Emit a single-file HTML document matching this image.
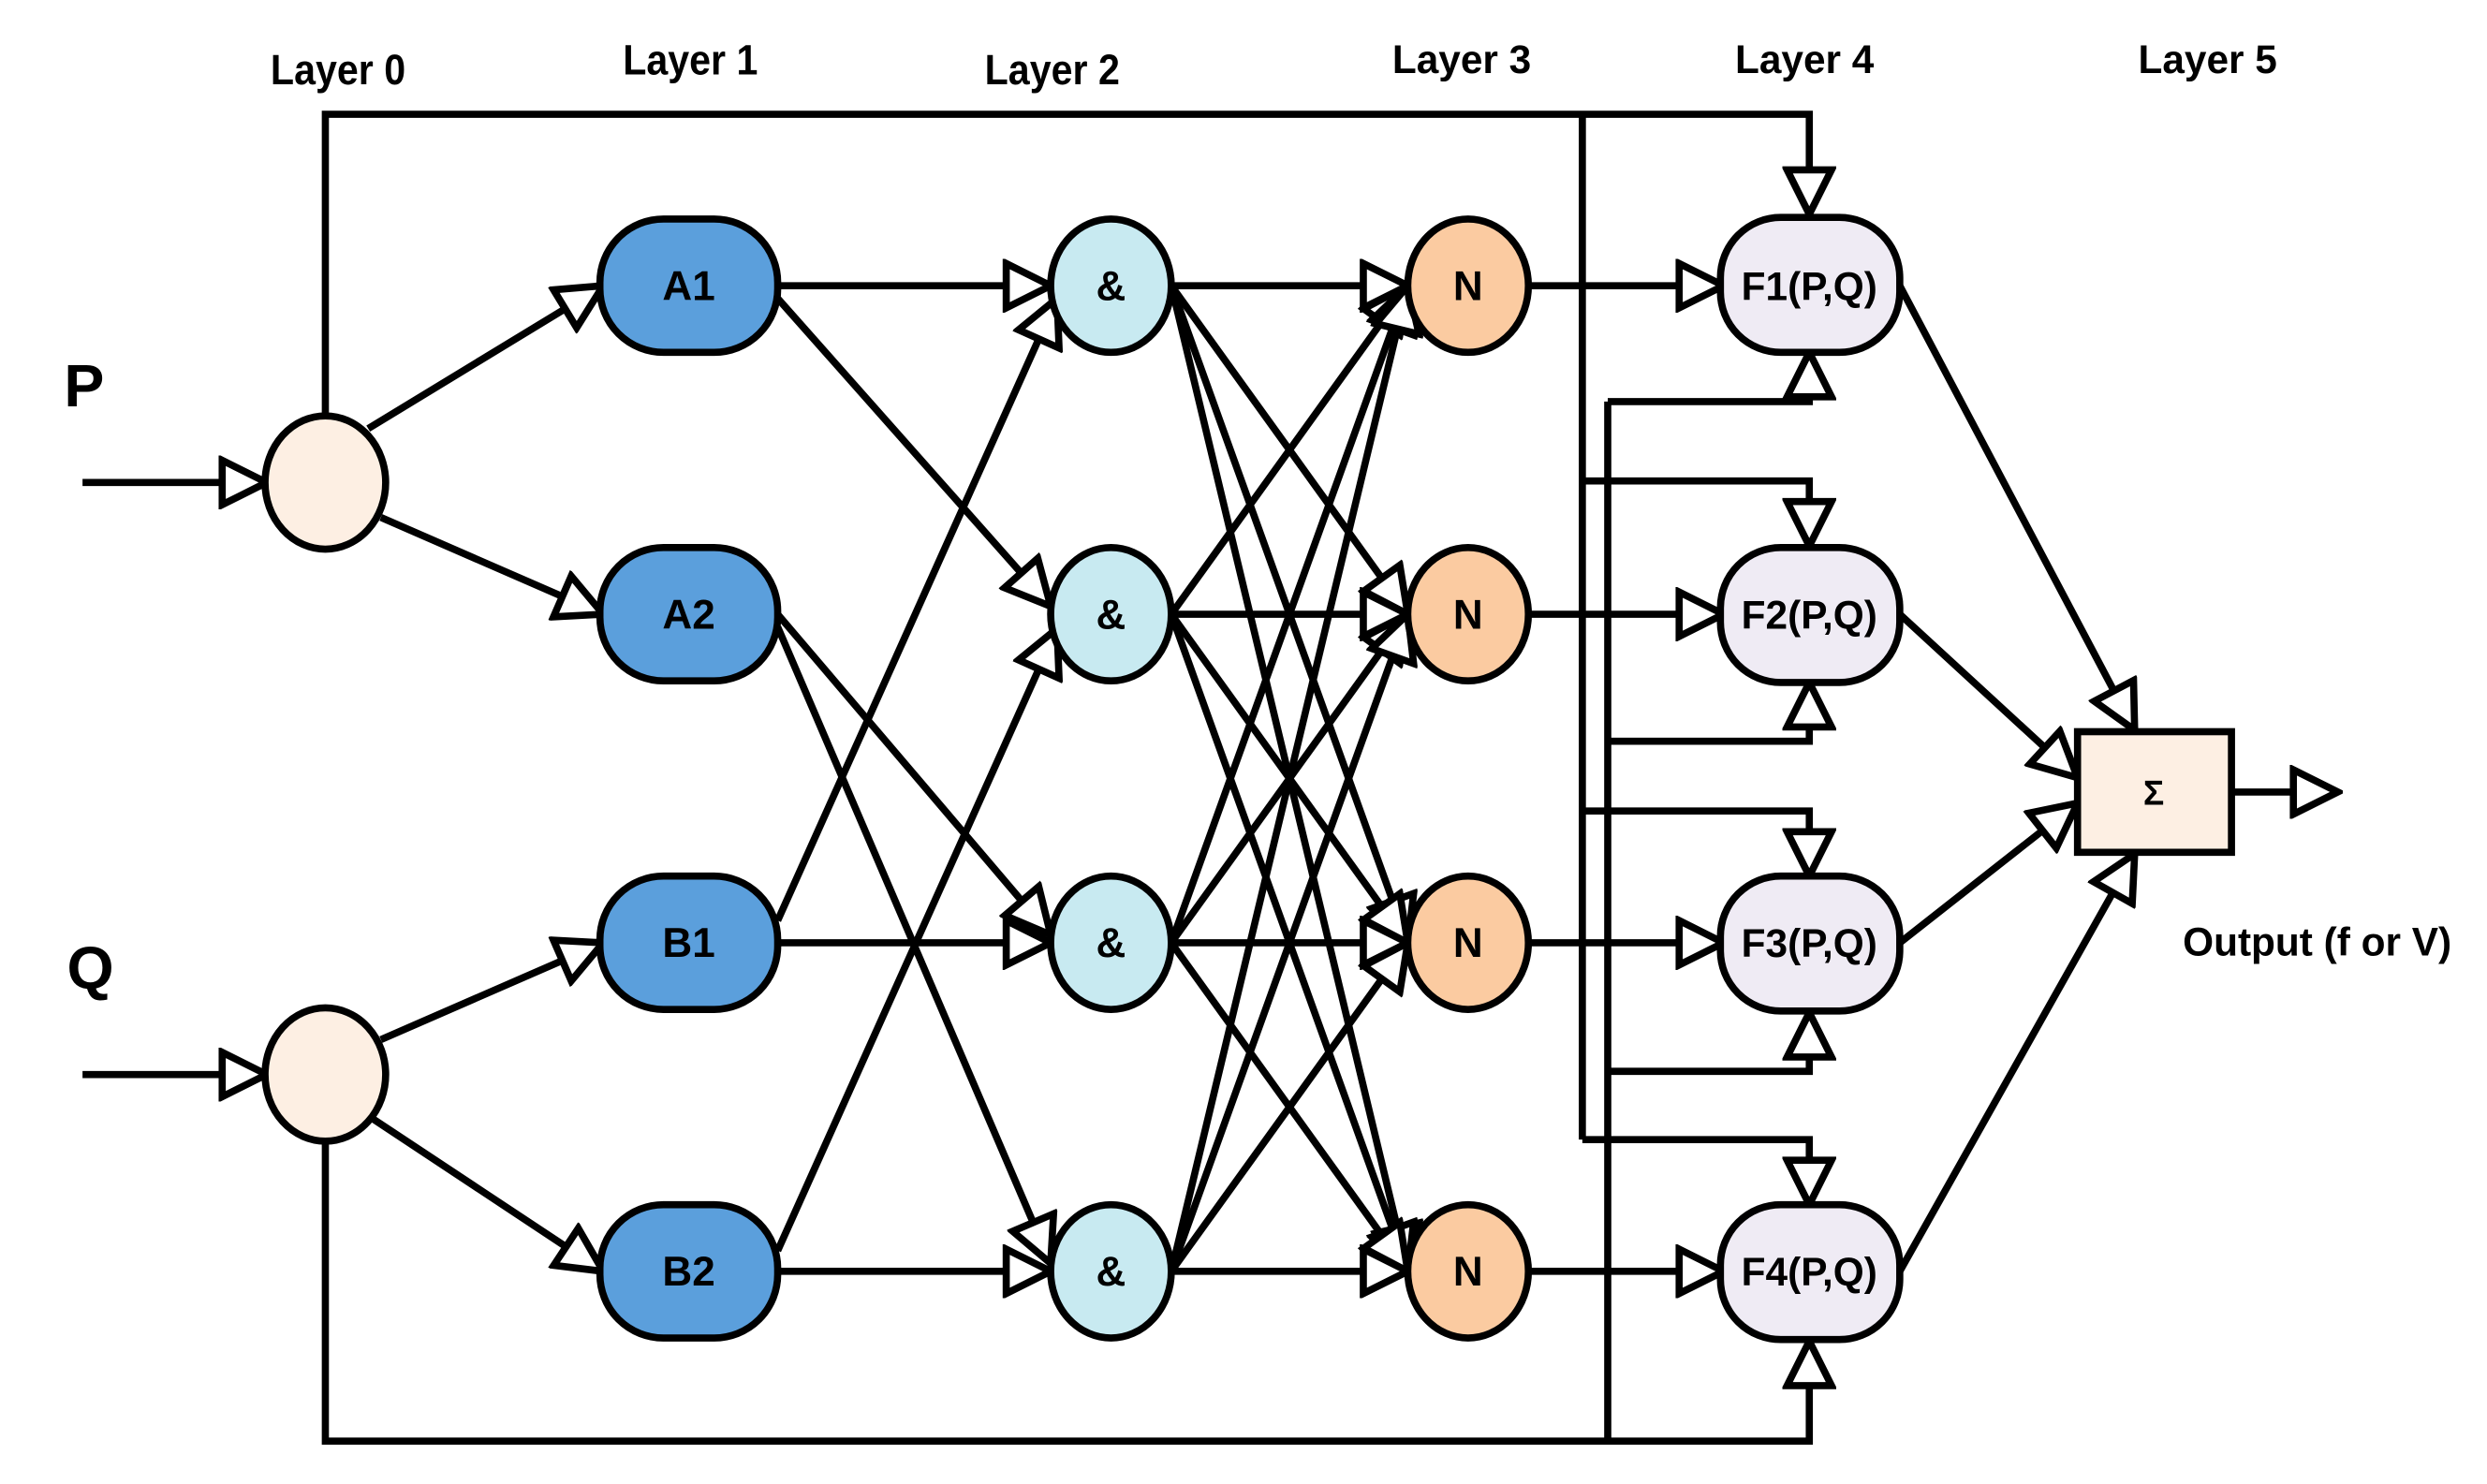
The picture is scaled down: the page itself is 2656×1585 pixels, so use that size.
<!DOCTYPE html>
<html><head><meta charset="utf-8"><style>html,body{margin:0;padding:0;background:#fff}svg{display:block}</style></head>
<body>
<svg width="2656" height="1585" viewBox="0 0 1567 935" preserveAspectRatio="none" xmlns="http://www.w3.org/2000/svg">
<defs>
<marker id="a" markerUnits="userSpaceOnUse" viewBox="-3 -17 34 34" markerWidth="34" markerHeight="34" refX="28" refY="0" orient="auto">
<path d="M0,-14 L28,0 L0,14 Z" fill="#fff" stroke="#000" stroke-width="4.5" stroke-linejoin="miter"/>
</marker>
</defs>
<g font-family="Liberation Sans, Arial, sans-serif" font-weight="bold" text-anchor="middle" fill="#000">
<text x="213" y="53" font-size="27" transform="translate(213 0) scale(0.9 1) translate(-213 0)">Layer 0</text>
<text x="435" y="47" font-size="27" transform="translate(435 0) scale(0.9 1) translate(-435 0)">Layer 1</text>
<text x="663" y="53" font-size="27" transform="translate(663 0) scale(0.9 1) translate(-663 0)">Layer 2</text>
<text x="921" y="46" font-size="25">Layer 3</text>
<text x="1137" y="46" font-size="25">Layer 4</text>
<text x="1391" y="46" font-size="25">Layer 5</text>
<text x="53" y="256" font-size="38">P</text>
<text x="57" y="623" font-size="38">Q</text>
<text x="1460" y="602" font-size="25">Output (f or V)</text>
</g>
<g stroke="#000" stroke-width="4.5" fill="none" stroke-linejoin="miter">
<polyline points="205,262 205,72 1140,72 1140,135" marker-end="url(#a)"/>
<line x1="997" y1="72" x2="997" y2="718"/>
<polyline points="997,303 1140,303 1140,344" marker-end="url(#a)"/>
<polyline points="997,511 1140,511 1140,552" marker-end="url(#a)"/>
<polyline points="997,718 1140,718 1140,759" marker-end="url(#a)"/>
<polyline points="205,719 205,908 1140,908 1140,845" marker-end="url(#a)"/>
<line x1="1013" y1="908" x2="1013" y2="253"/>
<polyline points="1013,253 1140,253 1140,222" marker-end="url(#a)"/>
<polyline points="1013,467 1140,467 1140,430" marker-end="url(#a)"/>
<polyline points="1013,675 1140,675 1140,638" marker-end="url(#a)"/>
<line x1="52" y1="304" x2="168" y2="304" marker-end="url(#a)"/>
<line x1="52" y1="677" x2="168" y2="677" marker-end="url(#a)"/>
<line x1="232" y1="270" x2="380" y2="180" marker-end="url(#a)"/>
<line x1="240" y1="326" x2="380" y2="387" marker-end="url(#a)"/>
<line x1="240" y1="655" x2="380" y2="594" marker-end="url(#a)"/>
<line x1="232" y1="703" x2="380" y2="801" marker-end="url(#a)"/>
<line x1="490" y1="180" x2="662" y2="180" marker-end="url(#a)"/>
<line x1="490" y1="188" x2="662" y2="382" marker-end="url(#a)"/>
<line x1="490" y1="387" x2="662" y2="589" marker-end="url(#a)"/>
<line x1="490" y1="395" x2="662" y2="796" marker-end="url(#a)"/>
<line x1="490" y1="580" x2="666" y2="188" marker-end="url(#a)"/>
<line x1="490" y1="594" x2="662" y2="594" marker-end="url(#a)"/>
<line x1="490" y1="788" x2="666" y2="396" marker-end="url(#a)"/>
<line x1="490" y1="801" x2="662" y2="801" marker-end="url(#a)"/>
<line x1="738" y1="180" x2="887" y2="180" marker-end="url(#a)"/>
<line x1="738" y1="180" x2="887" y2="387" marker-end="url(#a)"/>
<line x1="738" y1="180" x2="887" y2="594" marker-end="url(#a)"/>
<line x1="738" y1="180" x2="887" y2="801" marker-end="url(#a)"/>
<line x1="738" y1="387" x2="887" y2="180" marker-end="url(#a)"/>
<line x1="738" y1="387" x2="887" y2="387" marker-end="url(#a)"/>
<line x1="738" y1="387" x2="887" y2="594" marker-end="url(#a)"/>
<line x1="738" y1="387" x2="887" y2="801" marker-end="url(#a)"/>
<line x1="738" y1="594" x2="887" y2="180" marker-end="url(#a)"/>
<line x1="738" y1="594" x2="887" y2="387" marker-end="url(#a)"/>
<line x1="738" y1="594" x2="887" y2="594" marker-end="url(#a)"/>
<line x1="738" y1="594" x2="887" y2="801" marker-end="url(#a)"/>
<line x1="738" y1="801" x2="887" y2="180" marker-end="url(#a)"/>
<line x1="738" y1="801" x2="887" y2="387" marker-end="url(#a)"/>
<line x1="738" y1="801" x2="887" y2="594" marker-end="url(#a)"/>
<line x1="738" y1="801" x2="887" y2="801" marker-end="url(#a)"/>
<line x1="963" y1="180" x2="1086" y2="180" marker-end="url(#a)"/>
<line x1="963" y1="387" x2="1086" y2="387" marker-end="url(#a)"/>
<line x1="963" y1="594" x2="1086" y2="594" marker-end="url(#a)"/>
<line x1="963" y1="801" x2="1086" y2="801" marker-end="url(#a)"/>
<line x1="1197" y1="180" x2="1345" y2="460" marker-end="url(#a)"/>
<line x1="1197" y1="387" x2="1309" y2="490" marker-end="url(#a)"/>
<line x1="1197" y1="594" x2="1309" y2="506" marker-end="url(#a)"/>
<line x1="1197" y1="801" x2="1345" y2="538" marker-end="url(#a)"/>
<line x1="1406" y1="499" x2="1473" y2="499" marker-end="url(#a)"/>
</g>
<g stroke="#000" stroke-width="4.5">
<ellipse cx="205" cy="304" rx="38" ry="42" fill="#FDEFE3"/>
<ellipse cx="205" cy="677" rx="38" ry="42" fill="#FDEFE3"/>
<rect x="378" y="138" width="112" height="84" rx="40" fill="#5B9FDC"/>
<rect x="378" y="345" width="112" height="84" rx="40" fill="#5B9FDC"/>
<rect x="378" y="552" width="112" height="84" rx="40" fill="#5B9FDC"/>
<rect x="378" y="759" width="112" height="84" rx="40" fill="#5B9FDC"/>
<ellipse cx="700" cy="180" rx="38" ry="42" fill="#C8EAF1"/>
<ellipse cx="700" cy="387" rx="38" ry="42" fill="#C8EAF1"/>
<ellipse cx="700" cy="594" rx="38" ry="42" fill="#C8EAF1"/>
<ellipse cx="700" cy="801" rx="38" ry="42" fill="#C8EAF1"/>
<ellipse cx="925" cy="180" rx="38" ry="42" fill="#FBCBA1"/>
<ellipse cx="925" cy="387" rx="38" ry="42" fill="#FBCBA1"/>
<ellipse cx="925" cy="594" rx="38" ry="42" fill="#FBCBA1"/>
<ellipse cx="925" cy="801" rx="38" ry="42" fill="#FBCBA1"/>
<rect x="1084" y="137" width="113" height="85" rx="38" fill="#EFEBF4"/>
<rect x="1084" y="345" width="113" height="85" rx="38" fill="#EFEBF4"/>
<rect x="1084" y="552" width="113" height="85" rx="38" fill="#EFEBF4"/>
<rect x="1084" y="759" width="113" height="85" rx="38" fill="#EFEBF4"/>
<rect x="1309" y="461" width="97" height="76" fill="#FDEFE3"/>
</g>
<g font-family="Liberation Sans, Arial, sans-serif" font-weight="bold" text-anchor="middle" fill="#000" font-size="26">
<text x="434" y="189">A1</text><text x="434" y="396">A2</text><text x="434" y="603">B1</text><text x="434" y="810">B2</text>
<text x="700" y="189">&amp;</text><text x="700" y="396">&amp;</text><text x="700" y="603">&amp;</text><text x="700" y="810">&amp;</text>
<text x="925" y="189">N</text><text x="925" y="396">N</text><text x="925" y="603">N</text><text x="925" y="810">N</text>
<text x="1140" y="189" font-size="25">F1(P,Q)</text><text x="1140" y="396" font-size="25">F2(P,Q)</text><text x="1140" y="603" font-size="25">F3(P,Q)</text><text x="1140" y="810" font-size="25">F4(P,Q)</text>
<text x="1357" y="507" font-size="22">Σ</text>
</g>
</svg>
</body></html>
